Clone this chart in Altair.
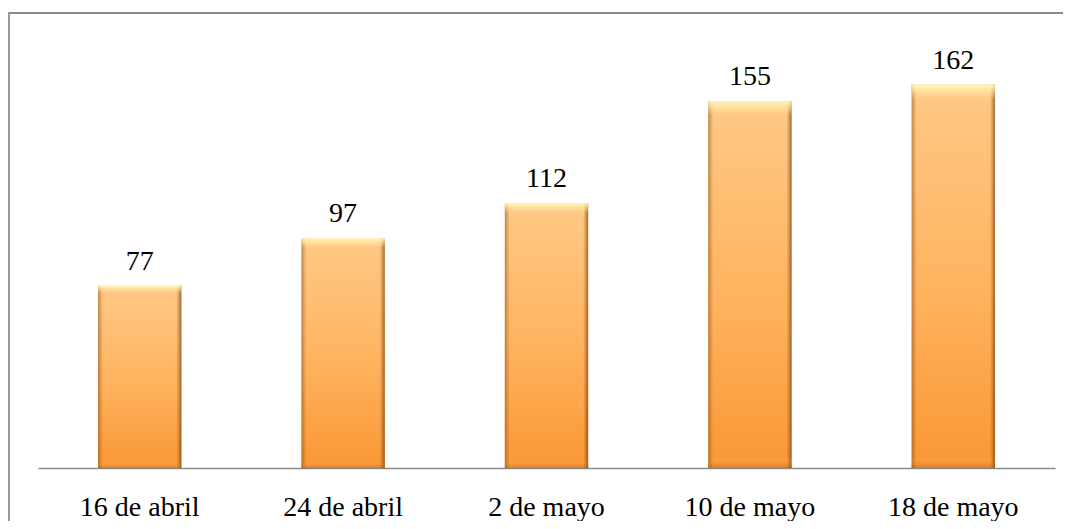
import altair as alt
import pandas as pd

categories = ["16 de abril", "24 de abril", "2 de mayo", "10 de mayo", "18 de mayo"]
values = [77, 97, 112, 155, 162]

df = pd.DataFrame({"fecha": categories, "valor": values})

FONT = "Liberation Serif"

x_enc = alt.X(
    "fecha:N",
    sort=categories,
    title=None,
    scale=alt.Scale(paddingInner=0.59, paddingOuter=0.295),
    axis=alt.Axis(
        labelAngle=0,
        ticks=False,
        grid=False,
        domainColor="#8a8a8a",
        domainWidth=1.6,
        labelFont=FONT,
        labelFontSize=28,
        labelColor="#000000",
        labelBaseline="alphabetic",
        labelPadding=47,
    ),
)
y_enc = alt.Y("valor:Q", scale=alt.Scale(domain=[0, 180], nice=False), axis=None)

fill_grad = alt.Gradient(
    gradient="linear",
    stops=[
        alt.GradientStop(color="#FFC986", offset=0),
        alt.GradientStop(color="#FFB25E", offset=0.55),
        alt.GradientStop(color="#FA9734", offset=1),
    ],
    x1=0, x2=0, y1=0, y2=1,
)
edge_grad = alt.Gradient(
    gradient="linear",
    stops=[
        alt.GradientStop(color="rgba(120,60,0,0.45)", offset=0),
        alt.GradientStop(color="rgba(120,60,0,0)", offset=0.06),
        alt.GradientStop(color="rgba(120,60,0,0)", offset=0.94),
        alt.GradientStop(color="rgba(90,45,0,0.6)", offset=1),
    ],
    x1=0, x2=1, y1=0, y2=0,
)
top_grad = alt.Gradient(
    gradient="linear",
    stops=[
        alt.GradientStop(color="rgba(255,248,190,0.95)", offset=0),
        alt.GradientStop(color="rgba(255,235,160,0)", offset=0.04),
        alt.GradientStop(color="rgba(255,235,160,0)", offset=0.97),
        alt.GradientStop(color="rgba(150,70,0,0.35)", offset=1),
    ],
    x1=0, x2=0, y1=0, y2=1,
)

base = alt.Chart(df).encode(x=x_enc, y=y_enc)

bars = base.mark_bar(color=fill_grad)
edges = base.mark_bar(color=edge_grad)
tops = base.mark_bar(color=top_grad)
labels = base.mark_text(
    dy=-16, baseline="alphabetic", font=FONT, fontSize=28, color="#000000"
).encode(text="valor:Q")

frame_top = alt.Chart(df).mark_rule(color="#8a8a8a", strokeWidth=2).encode(
    x=alt.value(-30), x2=alt.value(1030), y=alt.value(-29)
)
frame_left = alt.Chart(df).mark_rule(color="#9a9a9a", strokeWidth=2).encode(
    x=alt.value(-29), y=alt.value(-30), y2=alt.value(480)
)

chart = (
    alt.layer(bars, edges, tops, labels, frame_top, frame_left)
    .properties(
        width=1017,
        height=426,
        autosize=alt.AutoSizeParams(type="none"),
        padding={"left": 30, "top": 34, "right": 8, "bottom": 53},
        view=alt.ViewBackground(strokeOpacity=0, strokeWidth=0),
    )
    .configure_view(strokeOpacity=0, strokeWidth=0)
    .configure(background="#ffffff")
)

chart.save("out.html", embed_options={"renderer": "svg", "actions": False})
